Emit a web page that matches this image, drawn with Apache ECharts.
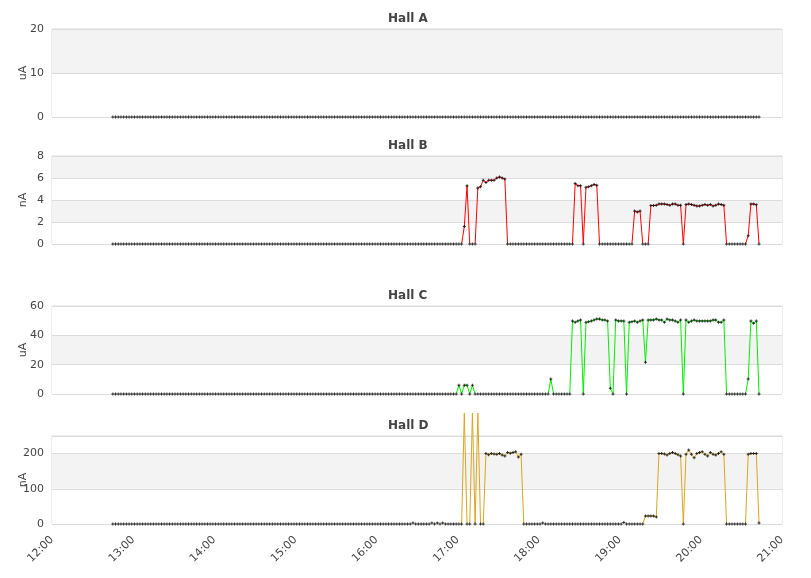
<!DOCTYPE html>
<html><head><meta charset="utf-8">
<script src="https://cdn.jsdelivr.net/npm/echarts@6.0.0/dist/echarts.min.js"></script>
<style>html,body{margin:0;padding:0;background:#fff}#c{width:811px;height:578px}</style>
</head><body><div id="c"></div>
<script>
// sampling grid: first sample 12:45, one sample every 2 minutes
const startMinute = 12 * 60 + 45;
const stepMinutes = 2;
const xTickLabels = ['12:00','13:00','14:00','15:00','16:00','17:00','18:00','19:00','20:00','21:00'];
const hallNames = ['Hall A', 'Hall B', 'Hall C', 'Hall D'];
const units = ['uA', 'nA', 'uA', 'nA'];
const yMax = [20, 8, 60, 250];
const yStep = [10, 2, 20, 100];
const lineColors = ['#3050d0', '#ff0000', '#00ee00', '#daa520'];

const hallA = [
0,0,0,0,0,0,0,0,0,0,0,0,0,0,0,0,0,0,0,0,
0,0,0,0,0,0,0,0,0,0,0,0,0,0,0,0,0,0,0,0,
0,0,0,0,0,0,0,0,0,0,0,0,0,0,0,0,0,0,0,0,
0,0,0,0,0,0,0,0,0,0,0,0,0,0,0,0,0,0,0,0,
0,0,0,0,0,0,0,0,0,0,0,0,0,0,0,0,0,0,0,0,
0,0,0,0,0,0,0,0,0,0,0,0,0,0,0,0,0,0,0,0,
0,0,0,0,0,0,0,0,0,0,0,0,0,0,0,0,0,0,0,0,
0,0,0,0,0,0,0,0,0,0,0,0,0,0,0,0,0,0,0,0,
0,0,0,0,0,0,0,0,0,0,0,0,0,0,0,0,0,0,0,0,
0,0,0,0,0,0,0,0,0,0,0,0,0,0,0,0,0,0,0,0,
0,0,0,0,0,0,0,0,0,0,0,0,0,0,0,0,0,0,0,0,
0,0,0,0,0,0,0,0,0,0,0,0,0,0,0,0,0,0,0,0
];
const hallB = [
0,0,0,0,0,0,0,0,0,0,0,0,0,0,0,0,0,0,0,0,
0,0,0,0,0,0,0,0,0,0,0,0,0,0,0,0,0,0,0,0,
0,0,0,0,0,0,0,0,0,0,0,0,0,0,0,0,0,0,0,0,
0,0,0,0,0,0,0,0,0,0,0,0,0,0,0,0,0,0,0,0,
0,0,0,0,0,0,0,0,0,0,0,0,0,0,0,0,0,0,0,0,
0,0,0,0,0,0,0,0,0,0,0,0,0,0,0,0,0,0,0,0,
0,0,0,0,0,0,0,0,0,0,1.6,5.3,0,0,0,5.1,5.2,5.8,5.6,5.8,
5.8,5.8,6.0,6.1,6.0,5.9,0,0,0,0,0,0,0,0,0,0,0,0,0,0,
0,0,0,0,0,0,0,0,0,0,0,5.5,5.3,5.3,0,5.15,5.2,5.3,5.4,5.35,
0,0,0,0,0,0,0,0,0,0,0,0,0,3.0,2.9,3.0,0,0,0,3.5,
3.5,3.52,3.64,3.64,3.64,3.58,3.52,3.64,3.64,3.52,3.52,0,3.58,3.64,3.58,3.52,3.45,3.45,3.52,3.58,
3.52,3.58,3.45,3.52,3.64,3.58,3.52,0,0,0,0,0,0,0,0,0.76,3.64,3.64,3.57,0
];
const hallC = [
0,0,0,0,0,0,0,0,0,0,0,0,0,0,0,0,0,0,0,0,
0,0,0,0,0,0,0,0,0,0,0,0,0,0,0,0,0,0,0,0,
0,0,0,0,0,0,0,0,0,0,0,0,0,0,0,0,0,0,0,0,
0,0,0,0,0,0,0,0,0,0,0,0,0,0,0,0,0,0,0,0,
0,0,0,0,0,0,0,0,0,0,0,0,0,0,0,0,0,0,0,0,
0,0,0,0,0,0,0,0,0,0,0,0,0,0,0,0,0,0,0,0,
0,0,0,0,0,0,0,0,6,0,6,6,0,6,0,0,0,0,0,0,
0,0,0,0,0,0,0,0,0,0,0,0,0,0,0,0,0,0,0,0,
0,0,10.2,0,0,0,0,0,0,0,49.8,48.9,49.8,50.5,0,48.9,49.3,49.8,50.5,51.1,
51.1,50.5,50.5,49.8,3.9,0,50.5,49.8,49.8,49.8,0,48.9,49.3,49.8,48.9,49.8,50.5,21.6,50.5,50.5,
50.5,51.1,50.5,50.5,48.9,51.1,50.5,50.5,49.8,48.9,50.5,0,50.5,48.9,49.8,50.5,49.8,49.8,49.8,49.8,
49.8,49.8,50.5,50.5,48.9,48.9,50.5,0,0,0,0,0,0,0,0,10.2,49.8,48.2,49.8,0
];
const hallD = [
0,0,0,0,0,0,0,0,0,0,0,0,0,0,0,0,0,0,0,0,
0,0,0,0,0,0,0,0,0,0,0,0,0,0,0,0,0,0,0,0,
0,0,0,0,0,0,0,0,0,0,0,0,0,0,0,0,0,0,0,0,
0,0,0,0,0,0,0,0,0,0,0,0,0,0,0,0,0,0,0,0,
0,0,0,0,0,0,0,0,0,0,0,0,0,0,0,0,0,0,0,0,
0,0,0,0,0,0,0,0,0,0,0,3,0,0,0,0,0,0,3,0,
3,0,3,0,0,0,0,0,0,0,315,0,0,315,0,315,0,0,200,197,
200,199,198,200,196,193,203,201,203,205,190,198,0,0,0,0,0,0,0,3,
0,0,0,0,0,0,0,0,0,0,0,0,0,0,0,0,0,0,0,0,
0,0,0,0,0,0,0,0,0,4,0,0,0,0,0,0,0,23,23,23,
23,20,200,200,199,196,200,203,200,197,193,0,198,210,198,188,200,203,205,198,
193,203,198,196,200,205,198,0,0,0,0,0,0,0,0,198,200,200,200,3
];
const hallValues = [hallA, hallB, hallC, hallD];

const gridTops = [29, 156, 306, 436];
const gridHeight = 88;
const titleTops = [13, 140, 290, 420];
const font = 'DejaVu Sans';

function pairs(vals) {
  return vals.map((v, i) => [startMinute + i * stepMinutes, v]);
}
// line segments lying on the zero baseline are drawn white (as in the reference)
function lineGradient(k) {
  const zeroY = gridTops[k] + gridHeight;
  return new echarts.graphic.LinearGradient(0, zeroY - 1.3, 0, zeroY - 0.6, [
    { offset: 0, color: lineColors[k] },
    { offset: 1, color: '#ffffff' }
  ], true);
}
const plus = 'path://M1,0H2V1H3V2H2V3H1V2H0V1H1Z';

const option = {
  animation: false,
  backgroundColor: '#fff',
  title: hallNames.map((n, k) => ({
    text: n, left: 388, top: titleTops[k], padding: 0,
    textStyle: { fontFamily: font, fontSize: 12, fontWeight: 'bold', color: '#444' }
  })),
  grid: gridTops.map(t => ({
    left: 52, right: 29, top: t, height: gridHeight, show: true,
    borderColor: '#dcdcdc', borderWidth: 1, backgroundColor: 'transparent',
    outerBoundsMode: 'none', containLabel: false
  })),
  xAxis: gridTops.map((t, k) => ({
    type: 'value', gridIndex: k, min: 720, max: 1260, interval: 60,
    axisLine: { show: false }, axisTick: { show: false }, splitLine: { show: false },
    axisLabel: {
      show: k === 3, rotate: 45, margin: 14, fontFamily: font, fontSize: 11, color: '#444',
      formatter: v => xTickLabels[Math.round((v - 720) / 60)] || ''
    }
  })),
  yAxis: gridTops.map((t, k) => ({
    type: 'value', gridIndex: k, min: 0, max: yMax[k], interval: yStep[k],
    name: units[k], nameLocation: 'middle', nameGap: 23, nameRotate: 90,
    nameMoveOverlap: false,
    nameTextStyle: { fontFamily: font, fontSize: 11, color: '#444' },
    axisLine: { show: false }, axisTick: { show: false },
    axisLabel: {
      fontFamily: font, fontSize: 11, color: '#444', margin: 8,
      formatter: v => (v % yStep[k] === 0 ? String(v) : '')
    },
    splitLine: { show: true, lineStyle: { color: '#dcdcdc', width: 1 } },
    splitArea: { show: true, areaStyle: { color: ['#ffffff', '#f3f3f3'] } }
  })),
  series: [
    ...hallValues.map((vals, k) => ({
      type: 'line', xAxisIndex: k, yAxisIndex: k, data: pairs(vals),
      showSymbol: false, clip: k !== 3, z: 3,
      lineStyle: { width: 1, color: lineGradient(k) }
    })),
    ...hallValues.map((vals, k) => ({
      type: 'scatter', xAxisIndex: k, yAxisIndex: k, data: pairs(vals),
      symbol: plus, symbolSize: 3, clip: true, z: 4,
      itemStyle: { color: '#000' }
    }))
  ]
};
const chart = echarts.init(document.getElementById('c'), null, { renderer: 'canvas' });
chart.setOption(option);
</script>
</body></html>
